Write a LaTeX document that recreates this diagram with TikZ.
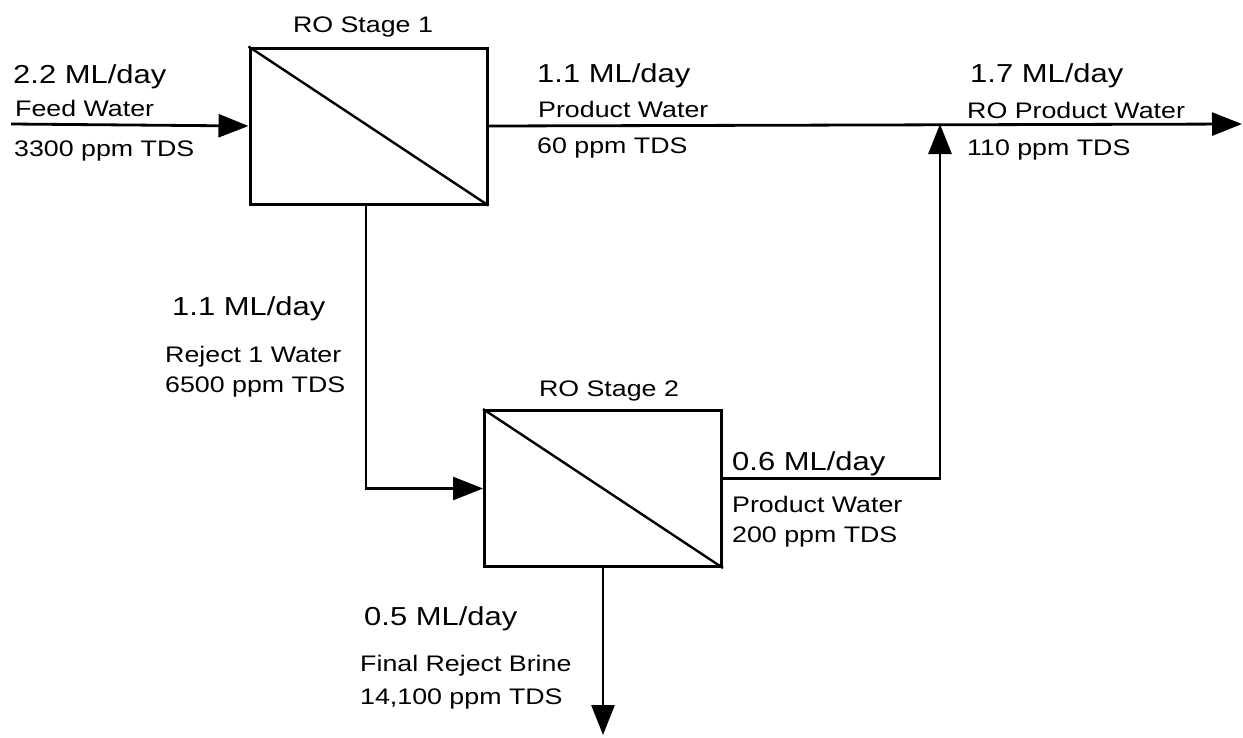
\documentclass[tikz,border=0pt]{standalone}
\usepackage{fontspec}
\setmainfont[FakeStretch=1.19]{Liberation Sans}
\usepackage{tikz}
\usetikzlibrary{arrows.meta,positioning,calc}

\begin{document}
\begin{tikzpicture}[x=1pt,y=-1pt,
  unit/.style={draw,line width=3pt,minimum width=237pt,minimum height=156pt,inner sep=0pt},
  flow/.style={line width=2.8pt,-{Triangle[length=30pt,width=23pt]}},
  big/.style={inner sep=0pt,anchor=base west,font=\fontsize{26}{30}\selectfont},
  small/.style={inner sep=0pt,anchor=base west,font=\fontsize{22.5}{26}\selectfont}]
\useasboundingbox (0,0) rectangle (1243,737);
% membrane units
\node[unit] (stage1) at (368.5,126) {};
\node[unit] (stage2) at (603,488.5) {};
\draw[line width=2.4pt] (stage1.north west)--(stage1.south east);
\draw[line width=2.4pt] (stage2.north west)--(stage2.south east);
\node[small,anchor=base] (name1) at (363,32) {RO Stage 1};
\node[small,anchor=base] (name2) at (609,396) {RO Stage 2};
% free ends
\coordinate (feedin) at (11,124);
\coordinate (prodout) at (1242,124);
\coordinate (junc) at (940,124);
\coordinate (brineout) at (603,735);
% streams
\draw[flow] (feedin)--(stage1.west);
\draw[flow] (stage1.east)--(prodout);
\draw[flow] ([xshift=-2.5pt]stage1.south) |- (stage2.west);
\draw[flow] ([yshift=10pt]stage2.east) -| (junc);
\draw[flow] (stage2.south)--(brineout);
% labels
\node[big] (feedq) at (13,83) {2.2 ML/day};
\node[small] (feedn) at (15,116) {Feed Water};
\node[small] (feedc) at (14,156) {3300 ppm TDS};
\node[big] (prod1q) at (537,82) {1.1 ML/day};
\node[small] (prod1n) at (538,117) {Product Water};
\node[small] (prod1c) at (537,153) {60 ppm TDS};
\node[big] (roq) at (970,82) {1.7 ML/day};
\node[small] (ron) at (967,118) {RO Product Water};
\node[small] (roc) at (967,155) {110 ppm TDS};
\node[big] (rej1q) at (172,315) {1.1 ML/day};
\node[small] (rej1n) at (165,362) {Reject 1 Water};
\node[small] (rej1c) at (165,392) {6500 ppm TDS};
\node[big] (prod2q) at (732,470) {0.6 ML/day};
\node[small] (prod2n) at (732,512) {Product Water};
\node[small] (prod2c) at (732,542) {200 ppm TDS};
\node[big] (brineq) at (364,625) {0.5 ML/day};
\node[small] (brinen) at (360,671) {Final Reject Brine};
\node[small] (brinec) at (360,704) {14,100 ppm TDS};
\end{tikzpicture}
\end{document}
